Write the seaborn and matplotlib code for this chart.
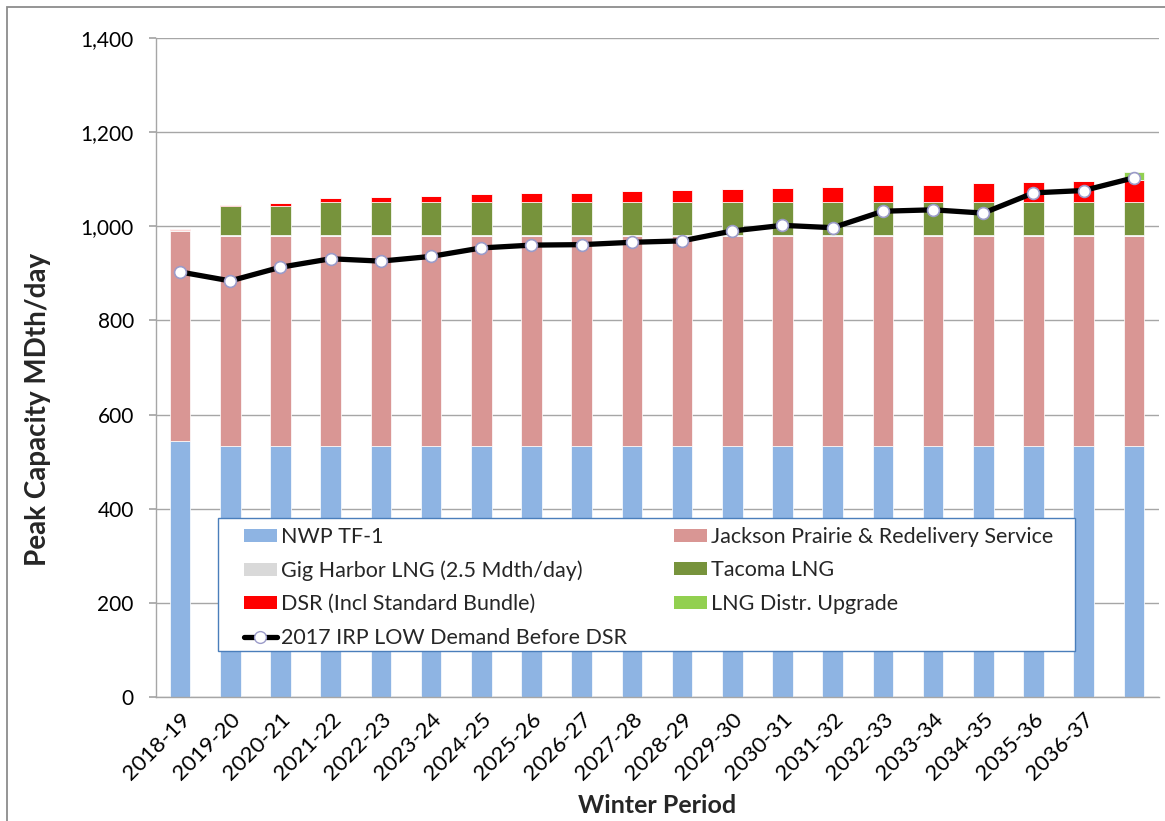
import matplotlib
matplotlib.use("Agg")
import matplotlib.pyplot as plt
import numpy as np
import pandas as pd
import seaborn as sns
from matplotlib.patches import Patch, Rectangle
from matplotlib.lines import Line2D
from matplotlib.ticker import FuncFormatter, MultipleLocator

# Winter periods (the final bar carries no label)
periods = ["2018-19", "2019-20", "2020-21", "2021-22", "2022-23", "2023-24",
           "2024-25", "2025-26", "2026-27", "2027-28", "2028-29", "2029-30",
           "2030-31", "2031-32", "2032-33", "2033-34", "2034-35", "2035-36",
           "2036-37"]

# Peak capacity resources, MDth/day
nwp_tf1 = [543, 533, 533, 533, 533, 533, 533, 533, 533, 533,
           533, 533, 533, 533, 533, 533, 533, 533, 533, 533]
jackson_prairie = [446, 446, 446, 446, 446, 446, 446, 446, 446, 446,
                   446, 446, 446, 446, 446, 446, 446, 446, 446, 446]
gig_harbor = [2.5, 2.5, 2.5, 2.5, 2.5, 2.5, 2.5, 2.5, 2.5, 2.5,
              2.5, 2.5, 2.5, 2.5, 2.5, 2.5, 2.5, 2.5, 2.5, 2.5]
tacoma_lng = [0, 62.5, 62.5, 70.5, 70.5, 70.5, 70.5, 70.5, 70.5, 70.5,
              70.5, 70.5, 70.5, 70.5, 70.5, 70.5, 70.5, 70.5, 70.5, 70.5]
dsr = [3, 2, 5, 9, 11, 12.5, 16, 18, 19.5, 23,
       24.5, 26.5, 30, 31.5, 35, 36.5, 41, 43, 44, 47]
lng_upgrade = [0, 0, 0, 0, 0, 0, 0, 0, 0, 0,
               0, 0, 0, 0, 0, 0, 0, 0, 0, 16]

# 2017 IRP low demand before DSR
low_demand = [903, 884, 913, 931, 926, 936, 954, 960, 961, 966,
              969, 990, 1002, 997, 1032, 1035, 1028, 1071, 1076, 1103]

series_names = ["NWP TF-1", "Jackson Prairie & Redelivery Service",
                "Gig Harbor LNG (2.5 Mdth/day)", "Tacoma LNG",
                "DSR (Incl Standard Bundle)", "LNG Distr. Upgrade"]
series_values = [nwp_tf1, jackson_prairie, gig_harbor, tacoma_lng, dsr, lng_upgrade]
series_colors = ["#8EB4E3", "#D99694", "#D9D9D9", "#77933C", "#FF0000", "#92D050"]
line_name = "2017 IRP LOW Demand Before DSR"

n_bars = len(nwp_tf1)
idx = np.arange(n_bars)

long_df = pd.concat(
    [pd.DataFrame({"period": idx, "source": name, "mdth": vals})
     for name, vals in zip(series_names, series_values)],
    ignore_index=True,
)
palette = dict(zip(series_names, series_colors))

sns.set_theme(style="white")
plt.rcParams["font.family"] = ["Lato", "DejaVu Sans"]

fig = plt.figure(figsize=(11.65, 8.21), dpi=100)
ax = fig.add_axes([156 / 1165, 1 - 697 / 821, (1159 - 156) / 1165, (697 - 38) / 821])

# Stacked bars: the last hue level sits at the bottom of each stack
sns.histplot(data=long_df, x="period", weights="mdth", hue="source",
             hue_order=series_names[::-1], palette=palette,
             multiple="stack", discrete=True, shrink=0.41,
             alpha=1, edgecolor="white", linewidth=0.5,
             legend=False, ax=ax)

sns.lineplot(x=idx, y=low_demand, color="black", linewidth=3.8,
             marker="o", markersize=8.5, markerfacecolor="white",
             markeredgecolor="#9B9BC9", markeredgewidth=1.2,
             ax=ax, zorder=5)

ax.set_xlim(-0.48, n_bars - 0.5)
ax.set_ylim(0, 1400)
ax.yaxis.set_major_locator(MultipleLocator(200))
ax.yaxis.set_major_formatter(FuncFormatter(lambda v, p: f"{int(v):,}"))
ax.set_xticks(np.arange(len(periods)))
ax.set_xticklabels(periods, rotation=45, ha="right", rotation_mode="anchor")

ax.yaxis.grid(True, color="#A6A6A6", linewidth=1)
ax.xaxis.grid(False)
ax.set_axisbelow(True)
for side in ("top", "right"):
    ax.spines[side].set_visible(False)
for side in ("left", "bottom"):
    ax.spines[side].set_color("#A6A6A6")
    ax.spines[side].set_linewidth(1)

ax.tick_params(axis="y", labelsize=15, length=5, color="#A6A6A6",
               left=True, pad=11, labelcolor="black")
ax.tick_params(axis="x", labelsize=16, length=0, pad=9, labelcolor="black")

ax.set_xlabel("Winter Period", fontsize=18, fontweight="bold")
ax.xaxis.set_label_coords(0.5, -0.147)
ax.set_ylabel("Peak Capacity MDth/day", fontsize=20, fontweight="bold")
ax.yaxis.set_label_coords(-0.105, 0.437)

# Legend box, then a frameless two-column legend inside it
ax.add_patch(Rectangle((0.0618, 0.0698), 0.8545, 0.2018, transform=ax.transAxes,
                       facecolor="white", edgecolor="#4A7EBB", linewidth=1,
                       zorder=9))
bar_handles = [Patch(facecolor=c, edgecolor="none") for c in series_colors]
line_handle = Line2D([0], [0], color="black", linewidth=3.8, marker="o",
                     markersize=8.5, markerfacecolor="white",
                     markeredgecolor="#9B9BC9", markeredgewidth=1)
handles = [bar_handles[0], bar_handles[2], bar_handles[4], line_handle,
           bar_handles[1], bar_handles[3], bar_handles[5]]
labels = [series_names[0], series_names[2], series_names[4], line_name,
          series_names[1], series_names[3], series_names[5]]
leg = ax.legend(handles, labels, ncol=2, loc="upper left",
                bbox_to_anchor=(0.0877, 0.0, 0.8066, 0.258), mode="expand",
                fontsize=15.5, frameon=False, handlelength=1.53,
                handleheight=0.56, handletextpad=0.19, labelspacing=0.62,
                borderpad=0, borderaxespad=0)
leg.set_zorder(10)

# Outer chart border
fig.add_artist(Rectangle((7 / 1165, -0.1), 1.2, 1.1 - 7 / 821,
                         transform=fig.transFigure, fill=False,
                         edgecolor="#8C8C8C", linewidth=1.3))

fig.savefig("out.png", dpi=100)
